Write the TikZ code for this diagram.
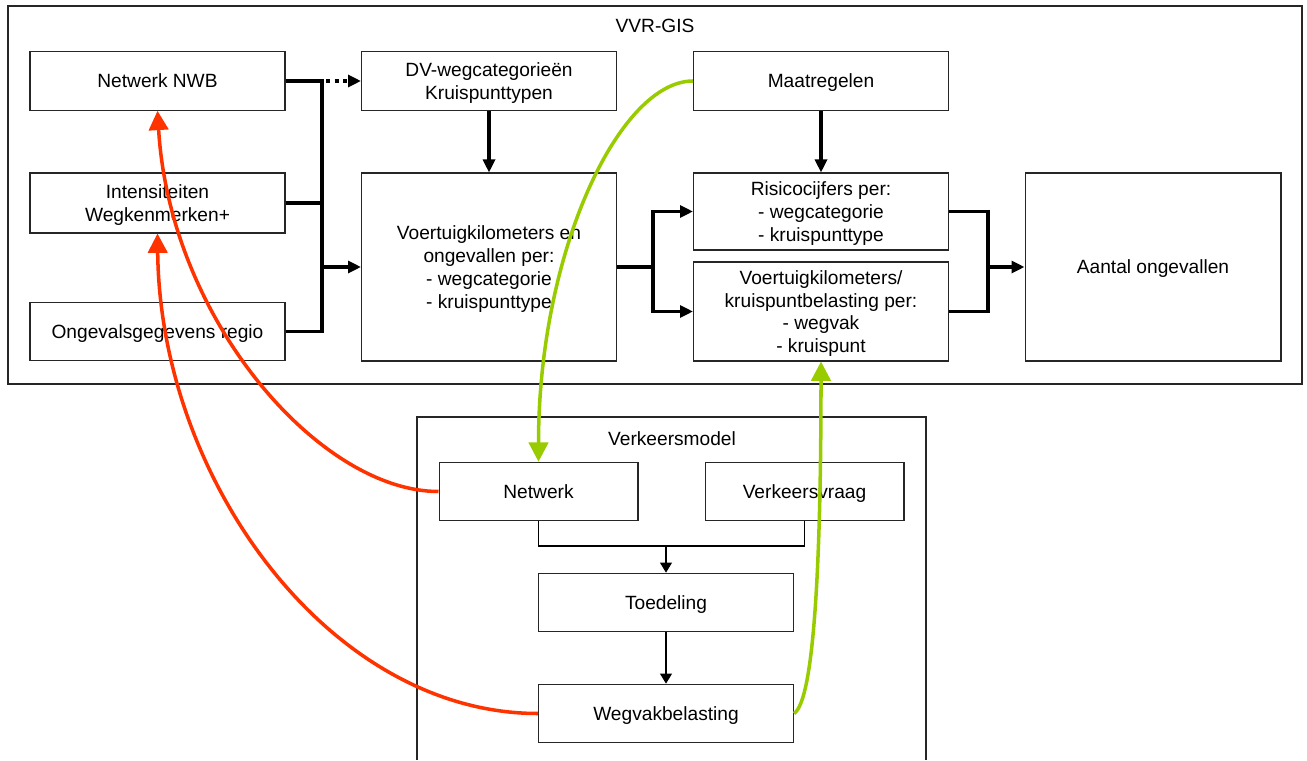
\documentclass[tikz,border=0pt]{standalone}
\usepackage{fontspec}
\setmainfont{Liberation Sans}
\usepackage{tikz}
\usetikzlibrary{arrows.meta}

\definecolor{linkred}{HTML}{FF3300}
\definecolor{linkgreen}{HTML}{99CC00}

\begin{document}
\begin{tikzpicture}[x=0.02cm,y=-0.02cm,
	every node/.style={font=\fontsize{10.9}{13}\selectfont},
	box/.style={draw=black!85,line width=0.6pt,align=center,inner sep=0pt,text depth=0pt,minimum width=5.1cm,minimum height=1.17cm},
	smallbox/.style={box,minimum width=3.98cm},
	groupframe/.style={draw=black!85,line width=0.6pt},
	bus/.style={line width=2.2pt},
	busarrow/.style={bus,-{Triangle[length=7.4pt,width=6.8pt]}},
	thinline/.style={line width=1pt},
	thinarrow/.style={thinline,-{Triangle[length=5.7pt,width=6.6pt]}},
	redlink/.style={draw=linkred,line width=2pt,-{Triangle[length=11pt,width=11pt]}},
	greenlink/.style={draw=linkgreen,line width=2pt,-{Triangle[length=11pt,width=11pt]}}]
	\useasboundingbox (0,0) rectangle (1307,760);
	
	%frames
	\draw[groupframe] (8,6) rectangle (1302,384);
	\draw[groupframe] (417,760)--(417,417)--(926,417)--(926,760);
	\node (vvrtitle) at (655,26) {VVR-GIS};
	\node (modeltitle) at (672,439) {Verkeersmodel};
	
	%boxes VVR-GIS
	\node[box] (nwb)    at (157.5,81)    {Netwerk NWB};
	\node[box,minimum height=1.2cm] (intens) at (157.5,203) {Intensiteiten\\Wegkenmerken+};
	\node[box] (ongev)  at (157.5,331.5) {Ongevalsgegevens regio};
	\node[box] (dvweg)  at (489,81)      {DV-wegcategorieën\\Kruispunttypen};
	\node[box,minimum height=3.76cm] (voert) at (489,267) {Voertuigkilometers en\\ongevallen per:\\- wegcategorie\\- kruispunttype};
	\node[box] (maatr)  at (821,81)      {Maatregelen};
	\node[box,minimum height=1.54cm] (risico) at (821,211.5) {Risicocijfers per:\\- wegcategorie\\- kruispunttype};
	\node[box,minimum height=1.98cm] (kruisp) at (821,311.5) {Voertuigkilometers/\\kruispuntbelasting per:\\- wegvak\\- kruispunt};
	\node[box,minimum width=5.12cm,minimum height=3.76cm] (aantal) at (1153,267) {Aantal ongevallen};
	
	%boxes Verkeersmodel
	\node[smallbox] (netwerk)   at (538.5,491.5) {Netwerk};
	\node[smallbox] (vraag)     at (804.5,491.5) {Verkeersvraag};
	\node[box]      (toedeling) at (666,602.5)   {Toedeling};
	\node[box]      (wegvak)    at (666,713.5)   {Wegvakbelasting};
	
	%bus lines
	\coordinate (busL) at (322,267);
	\coordinate (busM) at (653,267);
	\coordinate (busR) at (988,267);
	\coordinate (busV) at (666,546);
	\draw[bus] (nwb.east) -| (busL) |- (ongev.east);
	\draw[bus] (intens.east) -- (intens.east -| busL);
	\draw[busarrow,dash pattern=on 2.3pt off 2.6pt] (nwb.east -| busL) ++(4,0) -- (dvweg.west);
	\draw[busarrow] (busL) -- (voert.west);
	\draw[busarrow] (dvweg.south) -- (voert.north);
	\draw[busarrow] (maatr.south) -- (risico.north);
	\draw[bus] (voert.east) -- (busM);
	\draw[busarrow] (busM) |- (risico.west);
	\draw[busarrow] (busM) |- (kruisp.west);
	\draw[bus] (risico.east) -| (busR) |- (kruisp.east);
	\draw[busarrow] (busR) -- (aantal.west);
	
	%model lines
	\draw[thinline] (netwerk.south) |- (busV) -| (vraag.south);
	\draw[thinarrow] (busV) -- (toedeling.north);
	\draw[thinarrow] (toedeling.south) -- (wegvak.north);
	
	%curved links
	\draw[redlink] (netwerk.west) .. controls (320,491.5) and (170,320) .. (nwb.south);
	\draw[redlink] (wegvak.west) .. controls (330,713.5) and (160,480) .. (intens.south);
	\draw[greenlink] (maatr.west) .. controls (620,81) and (538.5,250) .. (netwerk.north);
	\draw[greenlink] (wegvak.east) .. controls (815,700) and (821,550) .. (kruisp.south);
\end{tikzpicture}
\end{document}
